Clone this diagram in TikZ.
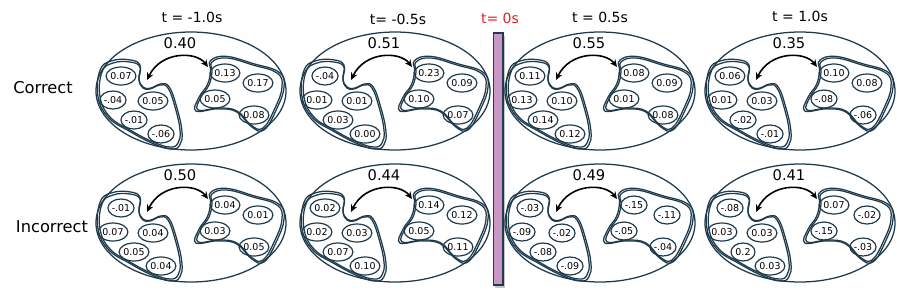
\documentclass[tikz,border=0pt]{standalone}
\usepackage{fontspec}
\setmainfont{DejaVu Sans}
\usetikzlibrary{arrows.meta,shapes.geometric}
\definecolor{navy}{HTML}{1E3A4C}
\definecolor{mauve}{HTML}{C996C6}
\definecolor{tzero}{HTML}{E0231E}
\tikzset{
  outline/.style={draw=navy, line width=0.95pt},
  num/.style={ellipse, draw=navy, line width=0.9pt, minimum width=18pt, minimum height=13.5pt, inner sep=0pt, font=\fontsize{7.1}{8}\selectfont},
  corr/.style={font=\fontsize{11}{12}\selectfont},
  ttl/.style={font=\fontsize{10.5}{12}\selectfont},
  rowlabel/.style={font=\fontsize{12.2}{14}\selectfont},
  swaparrow/.style={black, line width=1.2pt, {Stealth[length=5.5pt,width=5pt]}-{Stealth[length=5.5pt,width=5pt]}},
  barbox/.style={draw=navy, fill=mauve, line width=1pt},
}
\newcommand\blobL{plot[smooth cycle, tension=0.72] coordinates {(-89,-19) (-78,-28) (-61,-29) (-51,-24) (-52,-11) (-48,-3) (-41,-2) (-31,-6) (-23,-3) (-16,16) (-11,39) (-13,52) (-21,56) (-38,51) (-61,39) (-81,26) (-91,6)}}
\newcommand\blobR{plot[smooth cycle, tension=0.72] coordinates {(21,-29) (36,-33) (62,-26) (86,-18) (91,-4) (84,17) (72,37) (60,34) (46,20) (28,17) (7,19) (10,6) (18,-6) (21,-19)}}
\newcommand\panel[4]{%
  \begin{scope}[shift={#2}]
    \draw[outline] (0,0) ellipse [x radius=95, y radius=59];
    \draw[outline] \blobL;
    \begin{scope}[shift={(-50,15)}, scale=1.05, shift={(50,-15)}]
      \draw[outline] \blobL;
    \end{scope}
    \draw[outline] \blobR;
    \begin{scope}[shift={(50,0)}, scale=1.05, shift={(-50,0)}]
      \draw[outline] \blobR;
    \end{scope}
    \coordinate (#1k1) at (-70,-15);
    \coordinate (#1k2) at (-78,9);
    \coordinate (#1k3) at (-38,10);
    \coordinate (#1k4) at (-57,29);
    \coordinate (#1k5) at (-30,43);
    \coordinate (#1k6) at (34,-18);
    \coordinate (#1k7) at (67,-8);
    \coordinate (#1k8) at (24,8);
    \coordinate (#1k9) at (63,24);
    \coordinate (#1s) at (17,-24);
    \coordinate (#1t) at (-44,-11);
    \draw[swaparrow] (#1s) .. controls (5,-40) and (-30,-40) .. (#1t);
    \node[corr] (#1v) at (-11,-48) {#3};
  \end{scope}
  \foreach \v [count=\i] in {#4} {\node[num] (#1c\i) at (#1k\i) {\v};}
}
\begin{document}
\begin{tikzpicture}[x=0.75pt, y=-0.75pt]
\useasboundingbox (0,0) rectangle (897,294);
% titles
\node[ttl] (t1) at (192,17) {t = -1.0s};
\node[ttl] (t2) at (398,19) {t= -0.5s};
\node[ttl, text=tzero] (t0) at (500,18) {t= 0s};
\node[ttl] (t3) at (600,17) {t = 0.5s};
\node[ttl] (t4) at (800,16) {t = 1.0s};
% row labels
\node[rowlabel] (rc) at (43,88) {Correct};
\node[rowlabel] (ri) at (52,227) {Incorrect};
% time bar
\fill[gray!45] (495,36) rectangle (505,287.5);
\draw[barbox] (493.5,33) rectangle (503,285);
% panels
\panel{a}{(191,91)}{0.40}{0.07,-.04,0.05,-.01,-.06,0.13,0.17,0.05,0.08}
\panel{b}{(395,91)}{0.51}{-.04,0.01,0.01,0.03,0.00,0.23,0.09,0.10,0.07}
\panel{c}{(600,91)}{0.55}{0.11,0.13,0.10,0.14,0.12,0.08,0.09,0.01,0.08}
\panel{d}{(800,91)}{0.35}{0.06,0.01,0.03,-.02,-.01,0.10,0.08,-.08,-.06}
\panel{e}{(191,223)}{0.50}{-.01,0.07,0.04,0.05,0.04,0.04,0.01,0.03,0.05}
\panel{f}{(395,223)}{0.44}{0.02,0.02,0.03,0.07,0.10,0.14,0.12,0.05,0.11}
\panel{g}{(600,223)}{0.49}{-.03,-.09,-.02,-.08,-.09,-.15,-.11,-.05,-.04}
\panel{h}{(800,223)}{0.41}{-.08,0.03,0.03,0.2,0.03,0.07,-.02,-.15,-.03}
\end{tikzpicture}
\end{document}
